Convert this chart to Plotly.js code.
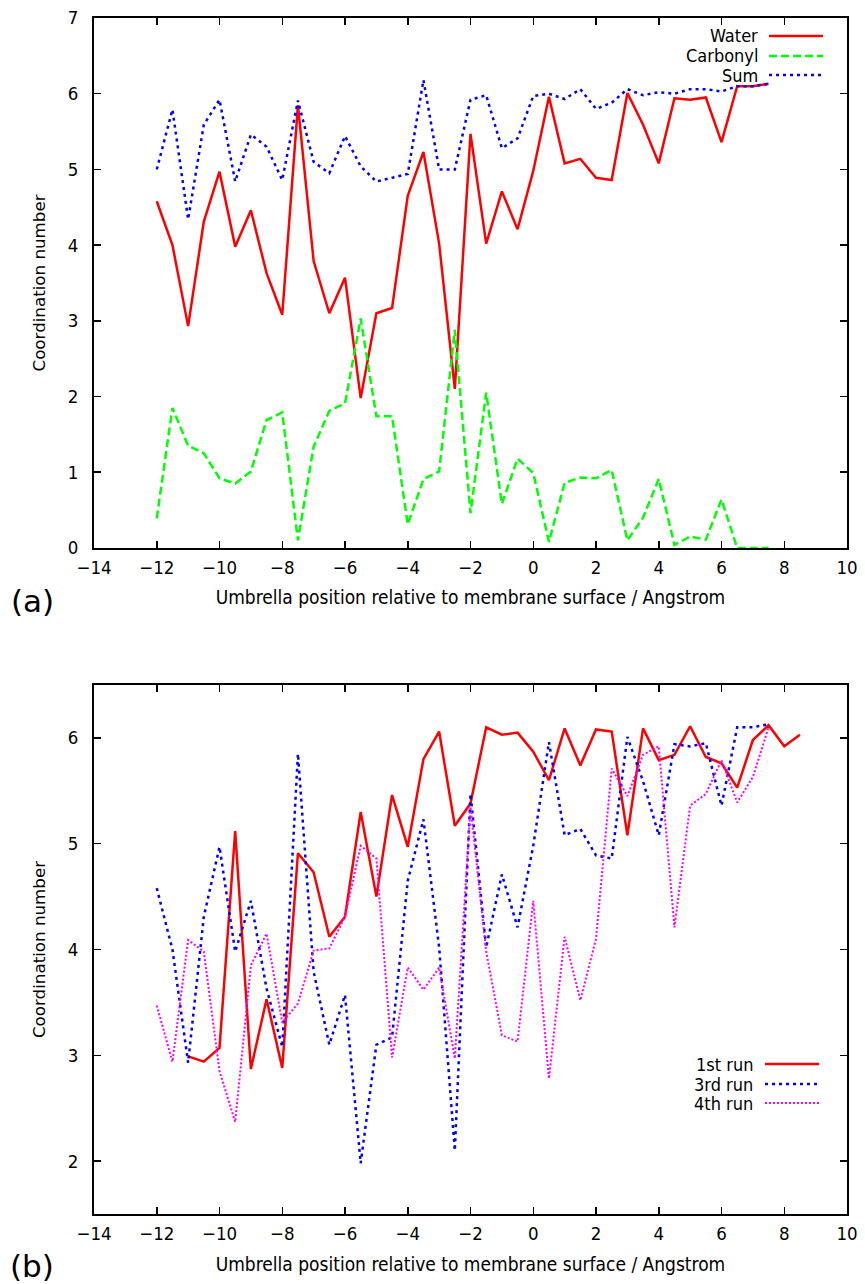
<!DOCTYPE html>
<html>
<head>
<meta charset="utf-8">
<script src="https://cdn.plot.ly/plotly-3.0.1.min.js"></script>
<style>
html,body{margin:0;padding:0;background:#fff;}
#chart{width:865px;height:1284px;}
</style>
</head>
<body>
<div id="chart"></div>
<script>
// ---- Panel (a) data ----
const xA = [-12,-11.5,-11,-10.5,-10,-9.5,-9,-8.5,-8,-7.5,-7,-6.5,-6,-5.5,-5,-4.5,-4,-3.5,-3,-2.5,-2,-1.5,-1,-0.5,0,0.5,1,1.5,2,2.5,3,3.5,4,4.5,5,5.5,6,6.5,7,7.5];
const water = [4.58,4.0,2.93,4.31,4.97,3.98,4.46,3.63,3.08,5.85,3.79,3.10,3.57,1.98,3.10,3.17,4.65,5.23,4.02,2.10,5.47,4.02,4.71,4.21,4.98,5.96,5.08,5.14,4.89,4.86,6.01,5.59,5.08,5.94,5.92,5.95,5.36,6.10,6.10,6.13];
const carbonyl = [0.39,1.85,1.35,1.25,0.92,0.85,1.01,1.69,1.79,0.10,1.34,1.81,1.91,3.03,1.74,1.74,0.31,0.91,1.01,2.88,0.46,2.05,0.58,1.18,0.99,0.08,0.86,0.93,0.92,1.03,0.10,0.40,0.91,0.04,0.15,0.11,0.64,0.0,0.0,0.0];
const sum = [5.0,5.79,4.34,5.59,5.92,4.84,5.46,5.30,4.86,5.91,5.10,4.95,5.44,5.04,4.84,4.89,4.94,6.18,5.0,5.0,5.92,5.98,5.28,5.41,5.97,6.0,5.93,6.06,5.80,5.88,6.06,5.98,6.02,6.0,6.06,6.06,6.03,6.10,6.10,6.13];

// ---- Panel (b) data ----
const xRun1 = [-11,-10.5,-10,-9.5,-9,-8.5,-8,-7.5,-7,-6.5,-6,-5.5,-5,-4.5,-4,-3.5,-3,-2.5,-2,-1.5,-1,-0.5,0,0.5,1,1.5,2,2.5,3,3.5,4,4.5,5,5.5,6,6.5,7,7.5,8,8.5];
const run1 = [2.99,2.94,3.07,5.12,2.87,3.53,2.88,4.91,4.73,4.12,4.31,5.30,4.50,5.46,4.97,5.80,6.06,5.17,5.38,6.10,6.03,6.05,5.87,5.60,6.09,5.74,6.08,6.06,5.08,6.09,5.79,5.84,6.11,5.82,5.76,5.53,5.98,6.12,5.92,6.03];
const xRun3 = [-12,-11.5,-11,-10.5,-10,-9.5,-9,-8.5,-8,-7.5,-7,-6.5,-6,-5.5,-5,-4.5,-4,-3.5,-3,-2.5,-2,-1.5,-1,-0.5,0,0.5,1,1.5,2,2.5,3,3.5,4,4.5,5,5.5,6,6.5,7,7.5];
const run3 = [4.58,4.0,2.93,4.31,4.97,3.98,4.46,3.63,3.08,5.85,3.79,3.10,3.57,1.98,3.10,3.17,4.65,5.23,4.02,2.10,5.47,4.02,4.71,4.21,4.98,5.96,5.08,5.14,4.89,4.86,6.01,5.59,5.08,5.94,5.92,5.95,5.36,6.10,6.10,6.13];
const xRun4 = [-12,-11.5,-11,-10.5,-10,-9.5,-9,-8.5,-8,-7.5,-7,-6.5,-6,-5.5,-5,-4.5,-4,-3.5,-3,-2.5,-2,-1.5,-1,-0.5,0,0.5,1,1.5,2,2.5,3,3.5,4,4.5,5,5.5,6,6.5,7,7.5];
const run4 = [3.47,2.94,4.09,3.98,2.85,2.37,3.85,4.15,3.31,3.49,3.99,4.01,4.31,4.98,4.86,2.98,3.83,3.62,3.83,2.97,5.35,3.98,3.19,3.13,4.46,2.78,4.12,3.52,4.10,5.71,5.45,5.84,5.92,4.21,5.36,5.47,5.79,5.39,5.63,6.10];

// ---- Labels ----
const seriesA = ['Water','Carbonyl','Sum'];
const seriesB = ['1st run','3rd run','4th run'];
const xTitle = 'Umbrella position relative to membrane surface / Angstrom';
const yTitle = 'Coordination number';
const panelLabels = ['(a)','(b)'];

const FONT = '"DejaVu Sans Condensed", "Liberation Sans Narrow", "DejaVu Sans", sans-serif';
const styles = [
  {color:'#ff0000', dash:'solid'},
  {color:'#00ff00', dash:'8px,4px'},
  {color:'#0000ff', dash:'3px,4px'}
];
const stylesB = [
  {color:'#ff0000', dash:'solid'},
  {color:'#0000ff', dash:'3px,4px'},
  {color:'#ff00ff', dash:'2px,2px'}
];

const traces = [
  {x:xA, y:water, name:seriesA[0], xaxis:'x', yaxis:'y', mode:'lines', line:{color:styles[0].color, dash:styles[0].dash, width:2.5}},
  {x:xA, y:carbonyl, name:seriesA[1], xaxis:'x', yaxis:'y', mode:'lines', line:{color:styles[1].color, dash:styles[1].dash, width:2.5}},
  {x:xA, y:sum, name:seriesA[2], xaxis:'x', yaxis:'y', mode:'lines', line:{color:styles[2].color, dash:styles[2].dash, width:2.5}},
  {x:xRun1, y:run1, name:seriesB[0], xaxis:'x2', yaxis:'y2', mode:'lines', line:{color:stylesB[0].color, dash:stylesB[0].dash, width:2.5}},
  {x:xRun3, y:run3, name:seriesB[1], xaxis:'x2', yaxis:'y2', mode:'lines', line:{color:stylesB[1].color, dash:stylesB[1].dash, width:2.5}},
  {x:xRun4, y:run4, name:seriesB[2], xaxis:'x2', yaxis:'y2', mode:'lines', line:{color:stylesB[2].color, dash:stylesB[2].dash, width:2}}
];

const axisCommon = {
  showgrid:false, zeroline:false, showline:true, linecolor:'#000', linewidth:2,
  mirror:'ticks', ticks:'inside', ticklen:7, tickwidth:1.5, tickcolor:'#000',
  tickfont:{family:FONT, size:18.5, color:'#000'}
};

const layout = {
  width:865, height:1284,
  margin:{l:94, r:18, t:18, b:70},
  paper_bgcolor:'#fff', plot_bgcolor:'#fff',
  showlegend:false,
  font:{family:FONT, color:'#000'},
  xaxis: Object.assign({}, axisCommon, {domain:[0,1], anchor:'y', range:[-14,10], dtick:2, tick0:0,
    ticklabelstandoff:2,
    title:{text:xTitle, font:{family:FONT, size:19, color:'#000'}, standoff:14}}),
  yaxis: Object.assign({}, axisCommon, {domain:[0.5569,1], anchor:'x', range:[0,7], dtick:1,
    ticklabelstandoff:10,
    title:{text:yTitle, font:{family:'"DejaVu Sans", sans-serif', size:16.7, color:'#000'}, standoff:18}}),
  xaxis2: Object.assign({}, axisCommon, {domain:[0,1], anchor:'y2', range:[-14,10], dtick:2, tick0:0,
    ticklabelstandoff:2,
    title:{text:xTitle, font:{family:FONT, size:19, color:'#000'}, standoff:14}}),
  yaxis2: Object.assign({}, axisCommon, {domain:[0,0.4423], anchor:'x2', range:[1.5,6.5], dtick:1,
    ticklabelstandoff:10,
    title:{text:yTitle, font:{family:'"DejaVu Sans", sans-serif', size:16.7, color:'#000'}, standoff:18}}),
  annotations:[], shapes:[]
};

// Panel labels
layout.annotations.push({text:panelLabels[0], xref:'paper', yref:'paper', x:-0.082, y:0.5125, showarrow:false,
  font:{family:'"DejaVu Sans", sans-serif', size:31, color:'#000'}, xanchor:'center', yanchor:'middle'});
layout.annotations.push({text:panelLabels[1], xref:'paper', yref:'paper', x:-0.082, y:-0.0435, showarrow:false,
  font:{family:'"DejaVu Sans", sans-serif', size:31, color:'#000'}, xanchor:'center', yanchor:'middle'});

// gnuplot-style legends (text left, sample right)
function addLegend(names, sty, textX, lineX0, lineX1, rowsY, widths){
  names.forEach((n,i)=>{
    layout.annotations.push({text:n, xref:'paper', yref:'paper', x:textX, y:rowsY[i], showarrow:false,
      xanchor:'right', yanchor:'middle', font:{family:FONT, size:18, color:'#000'}});
    layout.shapes.push({type:'line', xref:'paper', yref:'paper', x0:lineX0, x1:lineX1, y0:rowsY[i], y1:rowsY[i],
      line:{color:sty[i].color, dash:sty[i].dash, width:widths[i]}});
  });
}
const py = p => (1214 - p)/1196;
const px = p => (p - 94)/753;
addLegend(seriesA, styles, px(760), px(769), px(823), [py(36), py(56), py(75)], [2.5,2.5,2.5]);
addLegend(seriesB, stylesB, px(755), px(765), px(819), [py(1064), py(1084), py(1103)], [2.5,2.5,2]);

Plotly.newPlot('chart', traces, layout, {displayModeBar:false, staticPlot:true});
</script>
</body>
</html>
